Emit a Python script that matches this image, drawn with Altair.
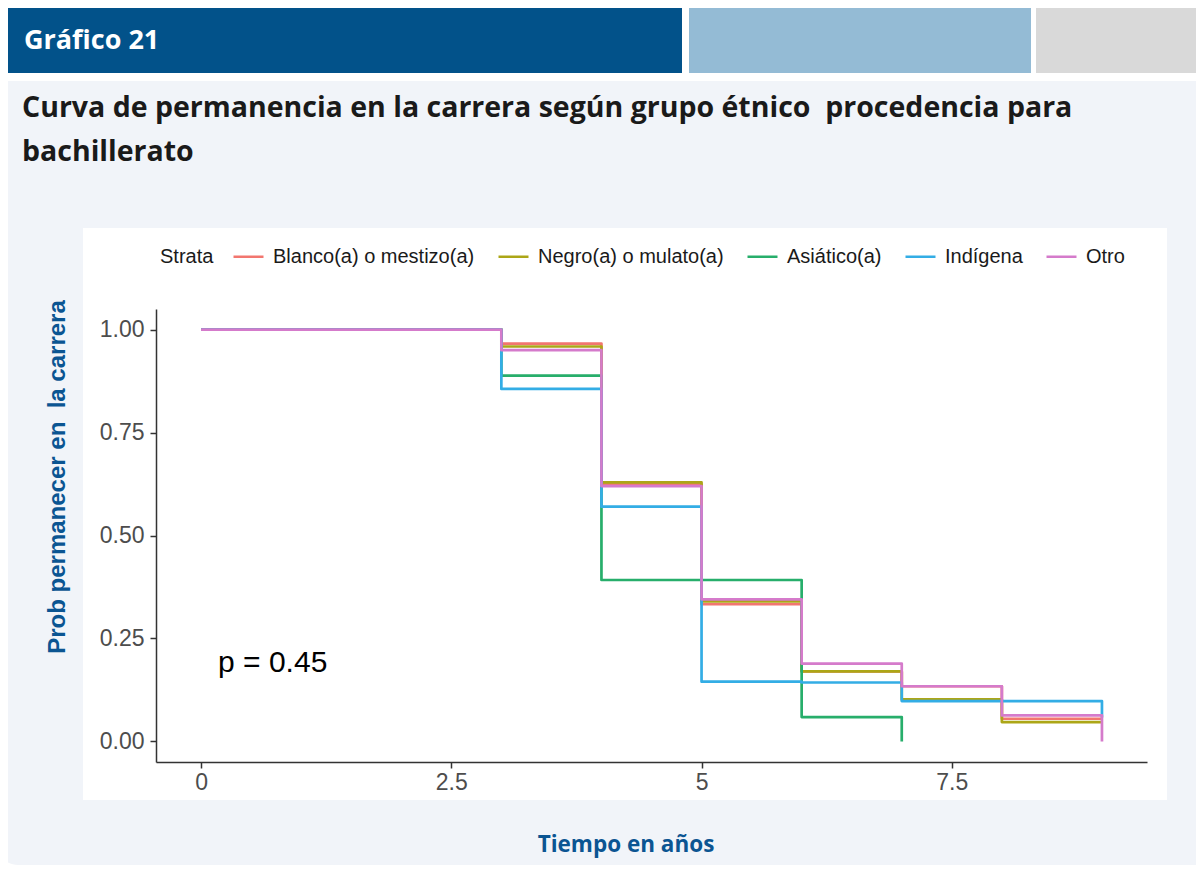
import altair as alt
import pandas as pd

# ---------------- data ----------------
strata = ["Blanco(a) o mestizo(a)", "Negro(a) o mulato(a)", "Asiático(a)", "Indígena", "Otro"]
colors = ["#F2766F", "#ACA617", "#27AE6B", "#33ADE5", "#D57BCB"]

t_blanco = [0, 3, 4, 5, 6, 7, 8, 9]
s_blanco = [1.0, 0.966, 0.624, 0.333, 0.170, 0.134, 0.055, 0.055]
t_negro = [0, 3, 4, 5, 6, 7, 8, 9]
s_negro = [1.0, 0.959, 0.629, 0.340, 0.170, 0.102, 0.047, 0.047]
t_asiatico = [0, 3, 4, 5, 6, 7]
s_asiatico = [1.0, 0.888, 0.392, 0.392, 0.059, 0.0]
t_indigena = [0, 3, 4, 5, 6, 7, 8, 9]
s_indigena = [1.0, 0.856, 0.570, 0.145, 0.143, 0.098, 0.098, 0.058]
t_otro = [0, 3, 4, 5, 6, 7, 8, 9]
s_otro = [1.0, 0.950, 0.620, 0.345, 0.189, 0.134, 0.063, 0.0]

x_ticks = [0, 2.5, 5, 7.5]
y_ticks = [0, 0.25, 0.5, 0.75, 1.0]

p_label = ["p = 0.45"]
p_x = [0.17]
p_y = [0.19]

header_label = "Gráfico 21"
title_lines = ["Curva de permanencia en la carrera según grupo étnico \u00a0procedencia para",
               "bachillerato"]
x_title = "Tiempo en años"
y_title = "Prob permanecer en \u00a0la carrera"
legend_title = "Strata"

# ---------------- tables ----------------
series = [
    (strata[0], t_blanco, s_blanco),
    (strata[1], t_negro, s_negro),
    (strata[2], t_asiatico, s_asiatico),
    (strata[3], t_indigena, s_indigena),
    (strata[4], t_otro, s_otro),
]
rows = []
for name, ts, ss in series:
    for t, s in zip(ts, ss):
        rows.append({"strata": name, "t": t, "s": s})
df = pd.DataFrame(rows)
one = pd.DataFrame({"k": [0]})

AX_FONT = "Liberation Sans"
TITLE_FONT = "Open Sans"
BLUE_TXT = "#0B5592"

xscale = alt.Scale(domain=[-0.45, 9.45], nice=False, zero=False)
yscale = alt.Scale(domain=[-0.05, 1.05], nice=False, zero=False)
xaxis = alt.Axis(values=x_ticks, format=".1~f", title=None, grid=False, zindex=2,
                 domainColor="#333333", domainWidth=1.5, tickColor="#333333",
                 tickWidth=1.5, tickSize=6, labelFont=AX_FONT, labelFontSize=23,
                 labelColor="#4D4D4D", labelPadding=3)
yaxis = alt.Axis(values=y_ticks, format=".2f", title=None, grid=False, zindex=2,
                 domainColor="#333333", domainWidth=1.5, tickColor="#333333",
                 tickWidth=1.5, tickSize=6, labelFont=AX_FONT, labelFontSize=23,
                 labelColor="#4D4D4D", labelPadding=6)
cscale = alt.Scale(domain=strata, range=colors)
legend = alt.Legend(orient="none", legendX=76, legendY=-69, direction="horizontal",
                    title=None, symbolType="stroke",
                    symbolSize=900, symbolStrokeWidth=2.5, labelFontSize=20,
                    labelFont=AX_FONT, columnPadding=18, labelOffset=8,
                    labelColor="#1a1a1a", labelLimit=400)

# ---------------- decoration ----------------
panel = alt.Chart(one).mark_rect(color="#F1F4F9", cornerRadiusBottomLeft=22).encode(
    x=alt.value(-160), x2=alt.value(1060), y=alt.value(-228), y2=alt.value(556))
hdr1 = alt.Chart(one).mark_rect(color="#02528A").encode(
    x=alt.value(-160), x2=alt.value(526), y=alt.value(-301), y2=alt.value(-236))
hdr2 = alt.Chart(one).mark_rect(color="#94BBD5").encode(
    x=alt.value(533), x2=alt.value(875), y=alt.value(-301), y2=alt.value(-236))
hdr3 = alt.Chart(one).mark_rect(color="#D9D9D9").encode(
    x=alt.value(880), x2=alt.value(1060), y=alt.value(-301), y2=alt.value(-236))
white = alt.Chart(one).mark_rect(color="#FFFFFF").encode(
    x=alt.value(-73), x2=alt.value(1011), y=alt.value(-81), y2=alt.value(491))

hdr_text = alt.Chart(one).mark_text(
    text=header_label, font=TITLE_FONT, fontWeight="bold", fontSize=27,
    color="#FFFFFF", align="left", baseline="middle").encode(
    x=alt.value(-132), y=alt.value(-268))
title_text = alt.Chart(one).mark_text(
    text=title_lines, font=TITLE_FONT, fontWeight="bold", fontSize=28.5,
    color="#1A1A1A", align="left", baseline="middle", lineHeight=44).encode(
    x=alt.value(-134), y=alt.value(-201))
xt = alt.Chart(one).mark_text(
    text=x_title, font=TITLE_FONT, fontWeight="bold", fontSize=22.5,
    color=BLUE_TXT, align="center", baseline="middle").encode(
    x=alt.value(470), y=alt.value(536))
yt = alt.Chart(one).mark_text(
    text=y_title, font=AX_FONT, fontWeight="bold", fontSize=24, angle=270,
    color=BLUE_TXT, align="center", baseline="middle").encode(
    x=alt.value(-98), y=alt.value(168))
lt = alt.Chart(one).mark_text(
    text=legend_title, font=AX_FONT, fontSize=20, color="#1a1a1a",
    align="left", baseline="middle").encode(
    x=alt.value(4), y=alt.value(-52))

# ---------------- curves ----------------
curves = []
for name in strata:
    c = alt.Chart(df).transform_filter(alt.datum.strata == name).mark_line(
        interpolate="step-after", strokeWidth=2.7, strokeJoin="round").encode(
        x=alt.X("t:Q", scale=xscale, axis=xaxis),
        y=alt.Y("s:Q", scale=yscale, axis=yaxis),
        color=alt.Color("strata:N", scale=cscale, legend=legend),
        order="t:Q")
    curves.append(c)

pdf = pd.DataFrame({"label": p_label, "px": p_x, "py": p_y})
ptext = alt.Chart(pdf).mark_text(font=AX_FONT, fontSize=30, color="#000000",
                                 align="left", baseline="middle").encode(
    x=alt.X("px:Q", scale=xscale, axis=xaxis),
    y=alt.Y("py:Q", scale=yscale, axis=yaxis),
    text="label:N")

chart = alt.layer(panel, hdr1, hdr2, hdr3, white, hdr_text, title_text, xt, yt, lt,
                  *curves, ptext).properties(
    width=991, height=453,
    autosize=alt.AutoSizeParams(type="none"),
    padding={"left": 148, "top": 301, "right": 49, "bottom": 103},
).configure_view(stroke=None).configure(background="#FFFFFF")

chart.save("out.html", embed_options={"renderer": "svg", "actions": False})
